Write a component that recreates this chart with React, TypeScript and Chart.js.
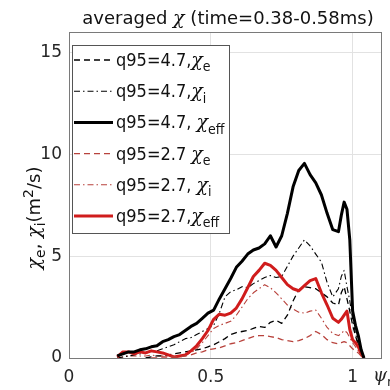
import React, { useEffect, useRef } from 'react';
import { Chart, registerables } from 'chart.js';

Chart.register(...registerables);

// normalized flux coordinate (shared grid)
const psiN = [
  0.17, 0.19, 0.21, 0.23, 0.25, 0.27, 0.29, 0.31, 0.33, 0.35,
  0.37, 0.39, 0.41, 0.43, 0.45, 0.47, 0.49, 0.51, 0.53, 0.55,
  0.57, 0.59, 0.61, 0.63, 0.65, 0.67, 0.69, 0.71, 0.73, 0.75,
  0.77, 0.79, 0.81, 0.83, 0.85, 0.87, 0.89, 0.91, 0.93, 0.95,
  0.96, 0.97, 0.98, 0.99, 1.0, 1.01, 1.02, 1.03, 1.04,
];

// q95 = 4.7
const chiE_47 = [
  null, null, null, null, null, 0.0, 0.05, 0.1, 0.1, 0.15,
  0.2, 0.25, 0.3, 0.35, 0.4, 0.45, 0.55, 0.65, 0.8, 0.95,
  1.15, 1.25, 1.3, 1.35, 1.45, 1.55, 1.5, 1.75, 1.85, 1.7,
  2.1, 2.8, 3.35, 3.5, 3.45, 3.4, 3.2, 3.0, 2.7, 2.6,
  3.2, 3.5, 2.9, 2.3, 1.6, 1.1, 0.6, 0.25, 0.0,
];
const chiI_47 = [
  0.0, 0.05, 0.1, 0.15, 0.2, 0.25, 0.3, 0.35, 0.45, 0.55,
  0.65, 0.8, 0.95, 1.0, 1.15, 1.3, 1.45, 1.6, 2.2, 3.0,
  3.25, 3.35, 3.5, 3.45, 3.65, 3.8, 3.95, 4.05, 3.95, 4.0,
  4.5, 5.0, 5.4, 5.8, 5.5, 5.1, 4.7, 3.7, 3.0, 3.4,
  4.0, 4.3, 3.5, 2.8, 1.9, 1.2, 0.7, 0.3, 0.0,
];
const chiEff_47 = [
  0.1, 0.2, 0.3, 0.3, 0.4, 0.45, 0.55, 0.6, 0.8, 0.9,
  1.05, 1.15, 1.35, 1.55, 1.7, 1.95, 2.2, 2.35, 2.9, 3.4,
  3.9, 4.45, 4.75, 5.1, 5.3, 5.4, 5.6, 6.0, 5.45, 6.0,
  7.1, 8.4, 9.2, 9.55, 9.0, 8.6, 8.0, 7.1, 6.3, 6.2,
  7.0, 7.65, 7.3, 5.8, 2.3, 1.6, 1.1, 0.4, 0.0,
];

// q95 = 2.7
const chiE_27 = [
  null, null, null, null, null, null, 0.0, 0.0, 0.05, 0.05,
  0.05, 0.05, 0.1, 0.15, 0.25, 0.3, 0.4, 0.45, 0.5, 0.6,
  0.7, 0.75, 0.85, 0.95, 1.05, 1.1, 1.1, 1.05, 1.0, 0.9,
  0.85, 0.8, 0.85, 0.95, 1.1, 1.3, 1.15, 0.9, 0.75, 0.7,
  0.75, 0.8, 0.75, 0.6, 0.45, 0.35, 0.25, 0.1, 0.0,
];
const chiI_27 = [
  0.0, 0.05, 0.1, 0.1, 0.1, 0.1, 0.15, 0.1, 0.1, 0.1,
  0.05, 0.1, 0.15, 0.25, 0.45, 0.75, 1.1, 1.45, 1.6, 1.7,
  1.8, 2.1, 2.5, 2.9, 3.2, 3.4, 3.6, 3.45, 3.2, 2.9,
  2.6, 2.4, 2.25, 2.2, 2.3, 2.35, 1.95, 1.5, 1.2, 1.1,
  1.2, 1.35, 1.25, 1.0, 0.75, 0.55, 0.35, 0.15, 0.0,
];
const chiEff_27 = [
  0.05, 0.3, 0.3, 0.2, 0.3, 0.25, 0.35, 0.3, 0.25, 0.15,
  0.05, 0.1, 0.15, 0.35, 0.6, 0.95, 1.35, 1.9, 2.15, 2.1,
  2.2, 2.45, 2.9, 3.45, 4.0, 4.3, 4.65, 4.55, 4.3, 3.95,
  3.6, 3.4, 3.3, 3.55, 3.8, 3.9, 3.2, 2.6, 1.95, 1.75,
  1.9, 2.1, 2.3, 1.4, 0.9, 0.75, 0.55, 0.2, 0.0,
];

// legend labels: "_" starts a subscript
const seriesLabels = [
  'q95=4.7,χ_e',
  'q95=4.7,χ_i',
  'q95=4.7, χ_eff',
  'q95=2.7 χ_e',
  'q95=2.7, χ_i',
  'q95=2.7,χ_eff',
];
const seriesValues = [chiE_47, chiI_47, chiEff_47, chiE_27, chiI_27, chiEff_27];

const titleText = 'averaged χ (time=0.38-0.58ms)';
const yAxisTitle = 'χ_e, χ_i(m^2/s)';
const xAxisTitle = 'ψ_n';
const xTicks = [0, 0.5, 1];
const yTicks = [0, 5, 10, 15];

const BLACK = '#000000';
const RED = '#d01c1c';
const RED_THIN = '#b8423c';
const DASH = [6, 4];
const DASHDOT = [6, 3, 1.5, 3];

const styles = [
  { color: BLACK, width: 1.3, dash: DASH },
  { color: BLACK, width: 1.1, dash: DASHDOT },
  { color: BLACK, width: 3, dash: [] as number[] },
  { color: RED_THIN, width: 1.3, dash: DASH },
  { color: RED_THIN, width: 1.1, dash: DASHDOT },
  { color: RED, width: 3, dash: [] as number[] },
];

const SANS = "'DejaVu Sans', sans-serif";
const COND = "'DejaVu Sans Condensed', 'DejaVu Sans', sans-serif";
const GREEK = "'DejaVu Serif', serif";

type Seg = { t: string; kind: 'n' | 'sub' | 'sup' | 'chi' };

function parseRich(s: string): Seg[] {
  const out: Seg[] = [];
  let i = 0;
  let buf = '';
  while (i < s.length) {
    const c = s[i];
    if (c === 'χ' || c === 'ψ') {
      if (buf) out.push({ t: buf, kind: 'n' });
      buf = '';
      out.push({ t: c, kind: 'chi' });
      i++;
    } else if (c === '_' || c === '^') {
      if (buf) out.push({ t: buf, kind: 'n' });
      buf = '';
      let j = i + 1;
      let sub = '';
      while (j < s.length && /[a-z0-9]/.test(s[j])) { sub += s[j]; j++; }
      out.push({ t: sub, kind: c === '_' ? 'sub' : 'sup' });
      i = j;
    } else {
      buf += c;
      i++;
    }
  }
  if (buf) out.push({ t: buf, kind: 'n' });
  return out;
}

function drawRich(ctx: CanvasRenderingContext2D, segs: Seg[], x: number, y: number, size: number, family: string, align: 'left' | 'center') {
  const fontFor = (k: Seg['kind']) => {
    if (k === 'chi') return `italic ${size + 1}px ${GREEK}`;
    if (k === 'sub' || k === 'sup') return `${Math.round(size * 0.75)}px ${family}`;
    return `${size}px ${family}`;
  };
  let total = 0;
  const widths = segs.map((s) => {
    ctx.font = fontFor(s.kind);
    const w = ctx.measureText(s.t).width;
    total += w;
    return w;
  });
  let cx = align === 'center' ? x - total / 2 : x;
  ctx.textAlign = 'left';
  ctx.textBaseline = 'alphabetic';
  segs.forEach((s, i) => {
    ctx.font = fontFor(s.kind);
    let dy = 0;
    if (s.kind === 'sub') dy = size * 0.3;
    if (s.kind === 'sup') dy = -size * 0.4;
    ctx.fillText(s.t, cx, y + dy);
    cx += widths[i];
  });
}

const decorPlugin = {
  id: 'decor',
  afterDatasetsDraw(chart: any) {
    const { ctx, chartArea } = chart;
    const { left, right, top, bottom } = chartArea;
    ctx.save();
    // axes box
    ctx.strokeStyle = '#7a7a7a';
    ctx.lineWidth = 1;
    ctx.setLineDash([]);
    ctx.strokeRect(Math.round(left) + 0.5, Math.round(top) + 0.5, Math.round(right - left), Math.round(bottom - top));

    // legend
    const bx = left + 3;
    const by = top + 13;
    const bw = 157;
    const rowH = 31.2;
    const bh = 188;
    ctx.fillStyle = '#ffffff';
    ctx.fillRect(bx, by, bw, bh);
    ctx.strokeStyle = '#555555';
    ctx.strokeRect(Math.round(bx) + 0.5, Math.round(by) + 0.5, bw, bh);
    chart.data.datasets.forEach((ds: any, i: number) => {
      const cy = by + 15 + i * rowH;
      ctx.save();
      ctx.strokeStyle = ds.borderColor;
      ctx.lineWidth = ds.borderWidth;
      ctx.setLineDash(ds.borderDash || []);
      ctx.beginPath();
      ctx.moveTo(bx + 2, cy);
      ctx.lineTo(bx + 41, cy);
      ctx.stroke();
      ctx.restore();
      ctx.fillStyle = '#111111';
      drawRich(ctx, parseRich(ds.label), bx + 44, cy + 6, 18, COND, 'left');
    });
    ctx.restore();
  },
  afterDraw(chart: any) {
    const { ctx, chartArea } = chart;
    ctx.save();
    ctx.fillStyle = '#111111';
    // title
    drawRich(ctx, parseRich(titleText), (chartArea.left + chartArea.right) / 2 + 3, 24, 18, SANS, 'center');
    // y axis title
    ctx.save();
    ctx.translate(40, 218);
    ctx.rotate(-Math.PI / 2);
    drawRich(ctx, parseRich(yAxisTitle), 0, 0, 18, SANS, 'center');
    ctx.restore();
    // x axis title
    ctx.fillStyle = '#262626';
    drawRich(ctx, parseRich(xAxisTitle), chartArea.right - 8, 381, 17, SANS, 'left');
    ctx.restore();
  },
};

export default function App() {
  const ref = useRef<HTMLCanvasElement | null>(null);

  useEffect(() => {
    if (!ref.current) return;
    const datasets = seriesValues.map((vals, i) => ({
      label: seriesLabels[i],
      data: psiN.map((x, j) => ({ x, y: vals[j] })),
      borderColor: styles[i].color,
      borderWidth: styles[i].width,
      borderDash: styles[i].dash,
      borderJoinStyle: 'round' as const,
      pointRadius: 0,
      tension: 0,
      fill: false,
      spanGaps: false,
    }));
    // draw thick lines last so they sit on top
    const order = [3, 4, 0, 1, 5, 2];
    datasets.forEach((d: any, i) => { d.order = order[i]; });

    const chart = new Chart(ref.current, {
      type: 'line',
      data: { datasets },
      options: {
        responsive: true,
        maintainAspectRatio: false,
        animation: false,
        layout: { padding: { top: 32, right: 9, left: 0, bottom: 0 } },
        plugins: {
          legend: { display: false },
          title: { display: false },
          tooltip: { enabled: false },
        },
        scales: {
          x: {
            type: 'linear',
            min: 0,
            max: 1.1,
            afterFit: (s: any) => { s.height = 32; },
            afterBuildTicks: (s: any) => { s.ticks = xTicks.map((v) => ({ value: v })); },
            ticks: {
              padding: 9,
              maxRotation: 0,
              color: '#262626',
              font: { family: 'DejaVu Sans', size: 17 },
              callback: (v: any) => String(v),
            },
            grid: { color: '#e2e2e2', drawTicks: false },
            border: { display: false },
          },
          y: {
            type: 'linear',
            min: 0,
            max: 16,
            afterFit: (s: any) => { s.width = 69; },
            afterBuildTicks: (s: any) => { s.ticks = yTicks.map((v) => ({ value: v })); },
            ticks: {
              padding: 7,
              color: '#262626',
              font: { family: 'DejaVu Sans', size: 17 },
              callback: (v: any) => String(v),
            },
            grid: { color: '#e2e2e2', drawTicks: false },
            border: { display: false },
          },
        },
      },
      plugins: [decorPlugin],
    });
    return () => chart.destroy();
  }, []);

  return (
    <div style={{ position: 'fixed', left: 0, top: 0, width: 390, height: 390, background: '#fff' }}>
      <canvas ref={ref} />
    </div>
  );
}
